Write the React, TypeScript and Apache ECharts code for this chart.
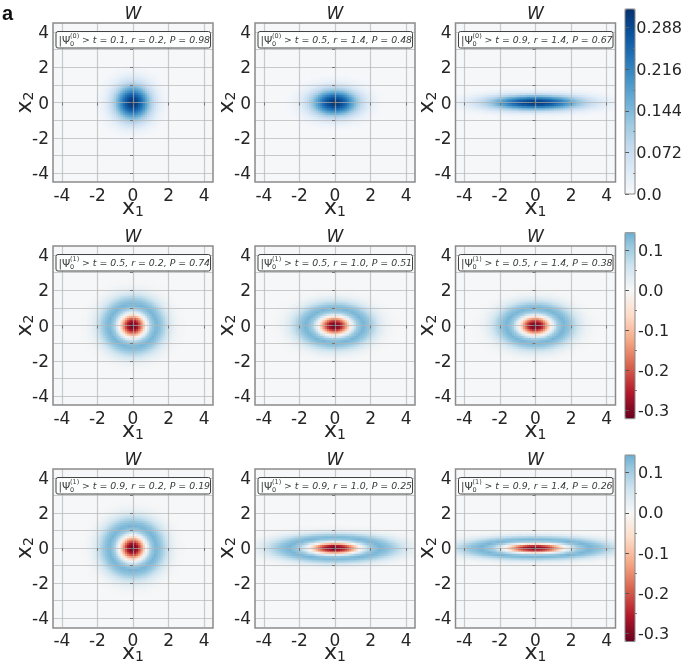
import React, { useEffect, useRef } from "react";
import * as echarts from "echarts";

// ---- data ----
const panelKets = ["0","0","0","1","1","1","1","1","1"];
const panelT = ["0.1","0.5","0.9","0.5","0.5","0.5","0.9","0.9","0.9"];
const panelR = ["0.2","1.4","1.4","0.2","1.0","1.4","0.2","1.0","1.4"];
const panelP = ["0.98","0.48","0.67","0.74","0.51","0.38","0.19","0.25","0.26"];
// half-widths of each blob relative to the profile, along x1 and x2
const panelWidthX = [1.0, 1.3, 2.6, 1.06, 1.28, 1.28, 1.05, 2.05, 2.45];
const panelWidthY = [1.0, 0.75, 0.42, 0.95, 0.76, 0.77, 1.0, 0.47, 0.38];
// W read along a radius, one sample every PROFILE_STEP
const PROFILE_STEP = 0.25;
const blueProfile = [0.318, 0.299, 0.248, 0.181, 0.117, 0.068, 0.034, 0.015, 0.006, 0.002, 0, 0, 0];
const ringProfile = [-0.318, -0.28, -0.14, 0.012, 0.105, 0.136, 0.116, 0.076, 0.041, 0.018, 0.007, 0.002, 0];

const xTickLabels = [-4, -2, 0, 2, 4];
const yGridLines = [-4, -3, -2, -1, 0, 1, 2, 3, 4];
const blueCbLabels = [0, 0.072, 0.144, 0.216, 0.288];
const blueCbMinor = [0.036, 0.108, 0.18, 0.252];
const divCbLabels = [-0.3, -0.2, -0.1, 0, 0.1];
const divCbMinor = [-0.25, -0.15, -0.05, 0.05];

// ---- colour maps ----
const BLUES = ["#f7f8fa", "#deebf7", "#c6dbef", "#9ecae1", "#6baed6", "#4292c6", "#2171b5", "#08519c", "#08306b"];
const RDBU = ["#67001f", "#b2182b", "#d6604d", "#f4a582", "#fddbc7", "#f7f7f7", "#d1e5f0", "#92c5de", "#4393c3"];
const DIV_MIN = -0.32, DIV_MAX = 0.144, BLUE_MAX = 0.32;
function hex(c: string) { return [1, 3, 5].map((i) => parseInt(c.slice(i, i + 2), 16)); }
function divColors() {
  const out: string[] = [];
  for (let k = 0; k <= 29; k++) {
    const v = DIV_MIN + (k * (DIV_MAX - DIV_MIN)) / 29;
    const p = ((v > 0 ? v * 1.1 : v) + 0.32) / 0.064;
    const i = Math.min(Math.floor(p), RDBU.length - 2);
    const f = p - i;
    const a = hex(RDBU[i]), b = hex(RDBU[i + 1]);
    out.push(`rgb(${a.map((q, j) => Math.round(q + (b[j] - q) * f)).join(",")})`);
  }
  return out;
}

// ---- layout ----
const FONT = "DejaVu Sans";
const W = 685, H = 664;
const colLeft = [53, 255, 455.5];
const rowTop = [23, 246, 469];
const PW = 160, PH = 159;
const cbBars = [
  { top: 9, bottom: 194 },
  { top: 232.7, bottom: 418.7 },
  { top: 455, bottom: 641.5 },
];
const CB_X = 625, CB_W = 10;
const CELL = 0.125, LIMIT = 4.5;

function lookup(table: number[], rho: number) {
  const p = rho / PROFILE_STEP;
  const i = Math.floor(p);
  if (i >= table.length - 1) return 0;
  return table[i] + (table[i + 1] - table[i]) * (p - i);
}
function cells(i: number) {
  const table = i < 3 ? blueProfile : ringProfile;
  const out: number[][] = [];
  const n = Math.ceil(LIMIT / CELL);
  for (let a = -n; a <= n; a++) {
    for (let b = -n; b <= n; b++) {
      const x = a * CELL, y = b * CELL;
      const v = lookup(table, Math.hypot(x / panelWidthX[i], y / panelWidthY[i]));
      if (Math.abs(v) >= 0.0015) out.push([x, y, v]);
    }
  }
  return out;
}

function renderCell(_: any, api: any) {
  const c = api.coord([api.value(0), api.value(1)]);
  const s = api.size([CELL, CELL]);
  return {
    type: "rect",
    shape: { x: c[0] - s[0] / 2 - 0.3, y: c[1] - s[1] / 2 - 0.3, width: s[0] + 0.6, height: s[1] + 0.6 },
    style: { fill: api.visual("color") },
  };
}

function buildOption() {
  const grid: any[] = [], xAxis: any[] = [], yAxis: any[] = [], series: any[] = [], title: any[] = [], graphic: any[] = [];
  const tickLabel = { color: "#262626", fontSize: 17, fontFamily: FONT };
  const rich = {
    x: { fontSize: 22, fontFamily: FONT, color: "#262626", lineHeight: 24 },
    s: { fontSize: 14, fontFamily: FONT, color: "#262626", verticalAlign: "bottom", lineHeight: 14 },
  };
  const gridLine = { show: true, lineStyle: { color: "rgba(178,178,178,0.68)", width: 1.2 } };
  for (let i = 0; i < 9; i++) {
    const left = colLeft[i % 3], top = rowTop[Math.floor(i / 3)];
    grid.push({ left, top, width: PW, height: PH, show: true, borderColor: "transparent", borderWidth: 0, backgroundColor: "#f6f7f8", z: 0 });
    xAxis.push({
      type: "value", gridIndex: i, min: -LIMIT, max: LIMIT, z: 3,
      name: "{x|x}{s|1}", nameLocation: "middle", nameGap: 12, nameMoveOverlap: false, nameTextStyle: { rich },
      axisLine: { show: false },
      axisTick: { show: true, length: 3, customValues: xTickLabels, lineStyle: { color: "#777" } },
      axisLabel: { ...tickLabel, margin: 4, customValues: xTickLabels },
      splitLine: gridLine,
    });
    yAxis.push({
      type: "value", gridIndex: i, min: -LIMIT, max: LIMIT, z: 3,
      name: "{x|x}{s|2}", nameLocation: "middle", nameGap: 18, nameMoveOverlap: false, nameRotate: 90, nameTextStyle: { rich },
      axisLine: { show: false },
      axisTick: { show: true, length: 3, customValues: yGridLines, lineStyle: { color: "#777" } },
      axisLabel: { ...tickLabel, margin: 4, customValues: xTickLabels },
      splitLine: gridLine,
    });
    series.push({
      type: "custom", coordinateSystem: "cartesian2d", xAxisIndex: i, yAxisIndex: i, clip: true, silent: true,
      renderItem: renderCell, data: cells(i), encode: { x: 0, y: 1 }, z: 2,
    });
    title.push({
      text: "W", left: left + PW / 2, top: top - 19, textAlign: "center", padding: 0,
      textStyle: { fontStyle: "italic", fontWeight: "normal", fontSize: 17, fontFamily: FONT, color: "#262626" },
    });
    graphic.push({ type: "rect", z: 19, shape: { x: left, y: top, width: PW, height: PH }, style: { fill: "none", stroke: "#8a8a8a", lineWidth: 1.5 } });
    const bx = left + 3, by = top + 8.5;
    const small = { fontFamily: FONT, fill: "#3a3a3a" };
    graphic.push({ type: "rect", z: 20, shape: { x: bx, y: by, width: 154.5, height: 16.5, r: 2 }, style: { fill: "rgba(255,255,255,0.9)", stroke: "#444", lineWidth: 1 } });
    graphic.push({ type: "text", z: 21, x: bx + 2.5, y: by + 8.3, style: { ...small, text: "|\u03a8", fontSize: 10.5, verticalAlign: "middle" } });
    graphic.push({ type: "text", z: 21, x: bx + 14, y: by + 4.8, style: { ...small, text: `(${panelKets[i]})`, fontSize: 6.5, verticalAlign: "middle" } });
    graphic.push({ type: "text", z: 21, x: bx + 14, y: by + 12, style: { ...small, text: "0", fontSize: 6.5, verticalAlign: "middle" } });
    graphic.push({ type: "text", z: 21, x: bx + 26, y: by + 8.3, style: { ...small, text: `> t = ${panelT[i]}, r = ${panelR[i]}, P = ${panelP[i]}`, fontSize: 9.4, fontStyle: "italic", verticalAlign: "middle" } });
  }
  // colour bar axes
  const cbDefs = [
    { min: 0, max: BLUE_MAX, labels: blueCbLabels, minor: blueCbMinor, digits: 3 },
    { min: DIV_MIN, max: DIV_MAX, labels: divCbLabels, minor: divCbMinor, digits: 1 },
    { min: DIV_MIN, max: DIV_MAX, labels: divCbLabels, minor: divCbMinor, digits: 1 },
  ];
  const cbColors = [BLUES, divColors(), divColors()];
  const seriesFor = [[0, 1, 2], [3, 4, 5], [6, 7, 8]];
  const visualMap: any[] = [];
  cbDefs.forEach((d, k) => {
    const b = cbBars[k];
    const gi = grid.length;
    grid.push({ left: CB_X, top: b.top, width: CB_W, height: b.bottom - b.top, show: false });
    xAxis.push({ type: "value", gridIndex: gi, min: 0, max: 1, show: false });
    yAxis.push({
      type: "value", gridIndex: gi, min: d.min, max: d.max, position: "right", z: 6,
      axisLine: { show: false }, splitLine: { show: false },
      axisTick: { show: true, length: 4, customValues: d.labels, lineStyle: { color: "#555" } },
      axisLabel: {
        color: "#262626", fontSize: 16, fontFamily: FONT, margin: 3, customValues: d.labels,
        formatter: (v: number) => (Math.abs(v) < 1e-9 ? "0.0" : v.toFixed(d.digits)),
      },
    });
    yAxis.push({
      type: "value", gridIndex: gi, min: d.min, max: d.max, position: "right", z: 6,
      axisLine: { show: false }, splitLine: { show: false },
      axisTick: { show: true, length: 2, customValues: d.minor, lineStyle: { color: "#777" } },
      axisLabel: { show: false },
    });
    visualMap.push({
      type: "continuous", min: d.min, max: d.max, dimension: 2, seriesIndex: seriesFor[k], show: true,
      left: CB_X, top: b.top, itemWidth: CB_W, itemHeight: b.bottom - b.top, padding: 0, text: null, showLabel: false,
      calculable: false, realtime: false, hoverLink: false, inRange: { color: cbColors[k] }, textStyle: { fontSize: 0 }, z: 4,
    });
    graphic.push({ type: "rect", z: 20, shape: { x: CB_X, y: b.top, width: CB_W, height: b.bottom - b.top }, style: { fill: "none", stroke: "#888", lineWidth: 1 } });
  });
  graphic.push({ type: "text", z: 21, x: 2, y: 3, style: { text: "a", fontSize: 20, fontWeight: "bold", fontFamily: "Liberation Sans", fill: "#111" } });
  return { animation: false, backgroundColor: "#ffffff", grid, xAxis, yAxis, series, title, graphic, visualMap };
}

export default function App() {
  const ref = useRef<HTMLDivElement>(null);
  useEffect(() => {
    document.body.style.margin = "0";
    const chart = echarts.init(ref.current!, undefined, { renderer: "svg" });
    chart.setOption(buildOption() as any);
    return () => chart.dispose();
  }, []);
  return <div ref={ref} style={{ width: W, height: H, filter: "blur(0.45px)" }} />;
}
